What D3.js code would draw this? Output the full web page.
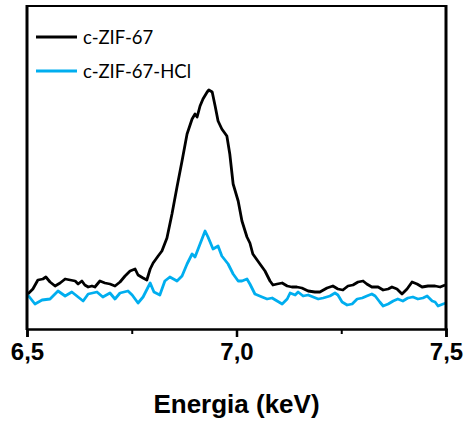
<!DOCTYPE html>
<html>
<head>
<meta charset="utf-8">
<script src="https://cdn.jsdelivr.net/npm/d3@7"></script>
<style>
  html, body { margin: 0; padding: 0; background: #fff; }
  svg { display: block; }
</style>
</head>
<body>
<svg id="chart" width="466" height="421"></svg>
<script>
// Co K-alpha region of the EDS spectra, energy in keV, intensity in arbitrary units
const energyA = [6.502, 6.514, 6.526, 6.538, 6.545, 6.555, 6.567, 6.579, 6.591, 6.603, 6.615, 6.622, 6.631, 6.638, 6.646, 6.655, 6.662, 6.674, 6.686, 6.698, 6.710, 6.722, 6.734, 6.746, 6.758, 6.765, 6.777, 6.786, 6.794, 6.801, 6.813, 6.822, 6.834, 6.846, 6.858, 6.870, 6.882, 6.894, 6.901, 6.906, 6.913, 6.920, 6.930, 6.934, 6.942, 6.949, 6.956, 6.965, 6.977, 6.984, 6.992, 7.004, 7.013, 7.025, 7.032, 7.039, 7.056, 7.068, 7.080, 7.087, 7.097, 7.109, 7.121, 7.132, 7.144, 7.156, 7.171, 7.187, 7.199, 7.216, 7.230, 7.242, 7.254, 7.266, 7.278, 7.290, 7.302, 7.311, 7.323, 7.338, 7.350, 7.362, 7.371, 7.383, 7.395, 7.407, 7.419, 7.431, 7.443, 7.457, 7.474, 7.486, 7.498];
const countsA = [35, 40, 49, 50, 52, 47, 43, 46, 50, 49, 48, 45, 48, 44, 42, 43, 42, 48, 46, 45, 43, 47, 53, 58, 60, 54, 51, 49, 60, 66, 73, 78, 91, 115, 142, 168, 195, 210, 215, 212, 223, 230, 237, 239, 237, 223, 208, 200, 193, 175, 145, 128, 108, 92, 86, 75, 65, 58, 48, 44, 45, 46, 43, 42, 42, 41, 38, 37, 37, 41, 43, 40, 39, 43, 44, 47, 48, 45, 42, 42, 39, 40, 42, 40, 35, 40, 47, 45, 42, 43, 43, 42, 44];

const energyB = [6.502, 6.519, 6.536, 6.555, 6.574, 6.591, 6.607, 6.622, 6.634, 6.646, 6.667, 6.681, 6.698, 6.710, 6.722, 6.741, 6.751, 6.765, 6.777, 6.794, 6.803, 6.817, 6.829, 6.841, 6.858, 6.870, 6.882, 6.894, 6.901, 6.913, 6.925, 6.932, 6.944, 6.956, 6.965, 6.980, 6.992, 7.004, 7.013, 7.025, 7.032, 7.044, 7.061, 7.073, 7.085, 7.097, 7.109, 7.121, 7.128, 7.140, 7.147, 7.159, 7.171, 7.183, 7.195, 7.207, 7.223, 7.235, 7.242, 7.252, 7.264, 7.276, 7.288, 7.300, 7.311, 7.323, 7.331, 7.342, 7.350, 7.362, 7.374, 7.385, 7.397, 7.409, 7.421, 7.433, 7.445, 7.455, 7.467, 7.474, 7.481, 7.493, 7.500];
const countsB = [34, 25, 29, 30, 38, 33, 37, 32, 28, 35, 37, 32, 36, 30, 36, 38, 34, 26, 32, 46, 37, 34, 48, 52, 48, 53, 65, 75, 72, 85, 98, 92, 80, 83, 73, 65, 55, 48, 48, 50, 45, 35, 32, 30, 31, 28, 25, 30, 36, 34, 37, 33, 34, 32, 30, 31, 33, 36, 34, 27, 24, 25, 30, 31, 33, 35, 33, 27, 23, 25, 28, 30, 28, 31, 32, 30, 31, 33, 28, 27, 23, 25, 26];

const seriesNames = ["c-ZIF-67", "c-ZIF-67-HCl"];
const seriesColors = ["#000000", "#00AEEF"];
const majorTicks = [6.5, 7.0, 7.5];
const minorTicks = [6.75, 7.25];
const xTitle = "Energia (keV)";

const svg = d3.select("#chart");
const plotLeft = 27, plotRight = 446, plotTop = 6, plotBottom = 329;

const x = d3.scaleLinear().domain([6.5, 7.5]).range([plotLeft, plotRight]);
const y = d3.scaleLinear().domain([0, 323]).range([plotBottom, plotTop]);

const ptBR = d3.formatLocale({ decimal: ",", thousands: ".", grouping: [3], currency: ["", ""] });
const fmt = ptBR.format(".1f");

const line = d3.line().x(d => x(d[0])).y(d => y(d[1]));

const seriesData = [
  d3.zip(energyA, countsA),
  d3.zip(energyB, countsB)
];

// spectra (the treated sample is drawn first so the pristine one sits on top)
[1, 0].forEach(i => {
  svg.append("path")
    .datum(seriesData[i])
    .attr("fill", "none")
    .attr("stroke", seriesColors[i])
    .attr("stroke-width", 2.8)
    .attr("stroke-linejoin", "round")
    .attr("d", line);
});

// frame
const frame = svg.append("g").attr("stroke", "#000").attr("fill", "none");
frame.append("line").attr("x1", plotLeft).attr("x2", plotRight).attr("y1", plotTop).attr("y2", plotTop).attr("stroke-width", 2);
frame.append("line").attr("x1", plotLeft).attr("x2", plotLeft).attr("y1", plotTop - 1).attr("y2", plotBottom + 1).attr("stroke-width", 3);
frame.append("line").attr("x1", plotRight).attr("x2", plotRight).attr("y1", plotTop - 1).attr("y2", plotBottom + 1).attr("stroke-width", 3);

// bottom axis: major ticks with labels, minor ticks unlabeled
const axisMajor = d3.axisBottom(x).tickValues(majorTicks).tickFormat(fmt).tickSize(8).tickPadding(6);
const gMajor = svg.append("g").attr("transform", `translate(0,${plotBottom})`).call(axisMajor);
gMajor.select(".domain").attr("stroke", "#000").attr("stroke-width", 2.5);
gMajor.selectAll(".tick line").attr("stroke", "#000").attr("stroke-width", 2.5);
gMajor.selectAll(".tick text")
  .attr("fill", "#000")
  .style("font-family", "'Liberation Sans', Arial, sans-serif")
  .style("font-weight", "bold")
  .style("font-size", "24px");

const axisMinor = d3.axisBottom(x).tickValues(minorTicks).tickFormat("").tickSize(5);
const gMinor = svg.append("g").attr("transform", `translate(0,${plotBottom})`).call(axisMinor);
gMinor.select(".domain").remove();
gMinor.selectAll(".tick line").attr("stroke", "#000").attr("stroke-width", 2);

// axis title
svg.append("text")
  .attr("x", (plotLeft + plotRight) / 2)
  .attr("y", 413)
  .attr("text-anchor", "middle")
  .style("font-family", "'Liberation Sans', Arial, sans-serif")
  .style("font-weight", "bold")
  .style("font-size", "26px")
  .text(xTitle);

// legend
const legend = svg.append("g");
seriesNames.forEach((name, i) => {
  const ly = 37 + i * 34;
  legend.append("line")
    .attr("x1", 36).attr("x2", 77)
    .attr("y1", ly).attr("y2", ly)
    .attr("stroke", seriesColors[i])
    .attr("stroke-width", 3);
  legend.append("text")
    .attr("x", 83).attr("y", ly + 7)
    .style("font-family", "Lato, 'Open Sans', sans-serif")
    .style("font-size", "18.5px")
    .attr("fill", "#000")
    .text(name);
});
</script>
</body>
</html>
